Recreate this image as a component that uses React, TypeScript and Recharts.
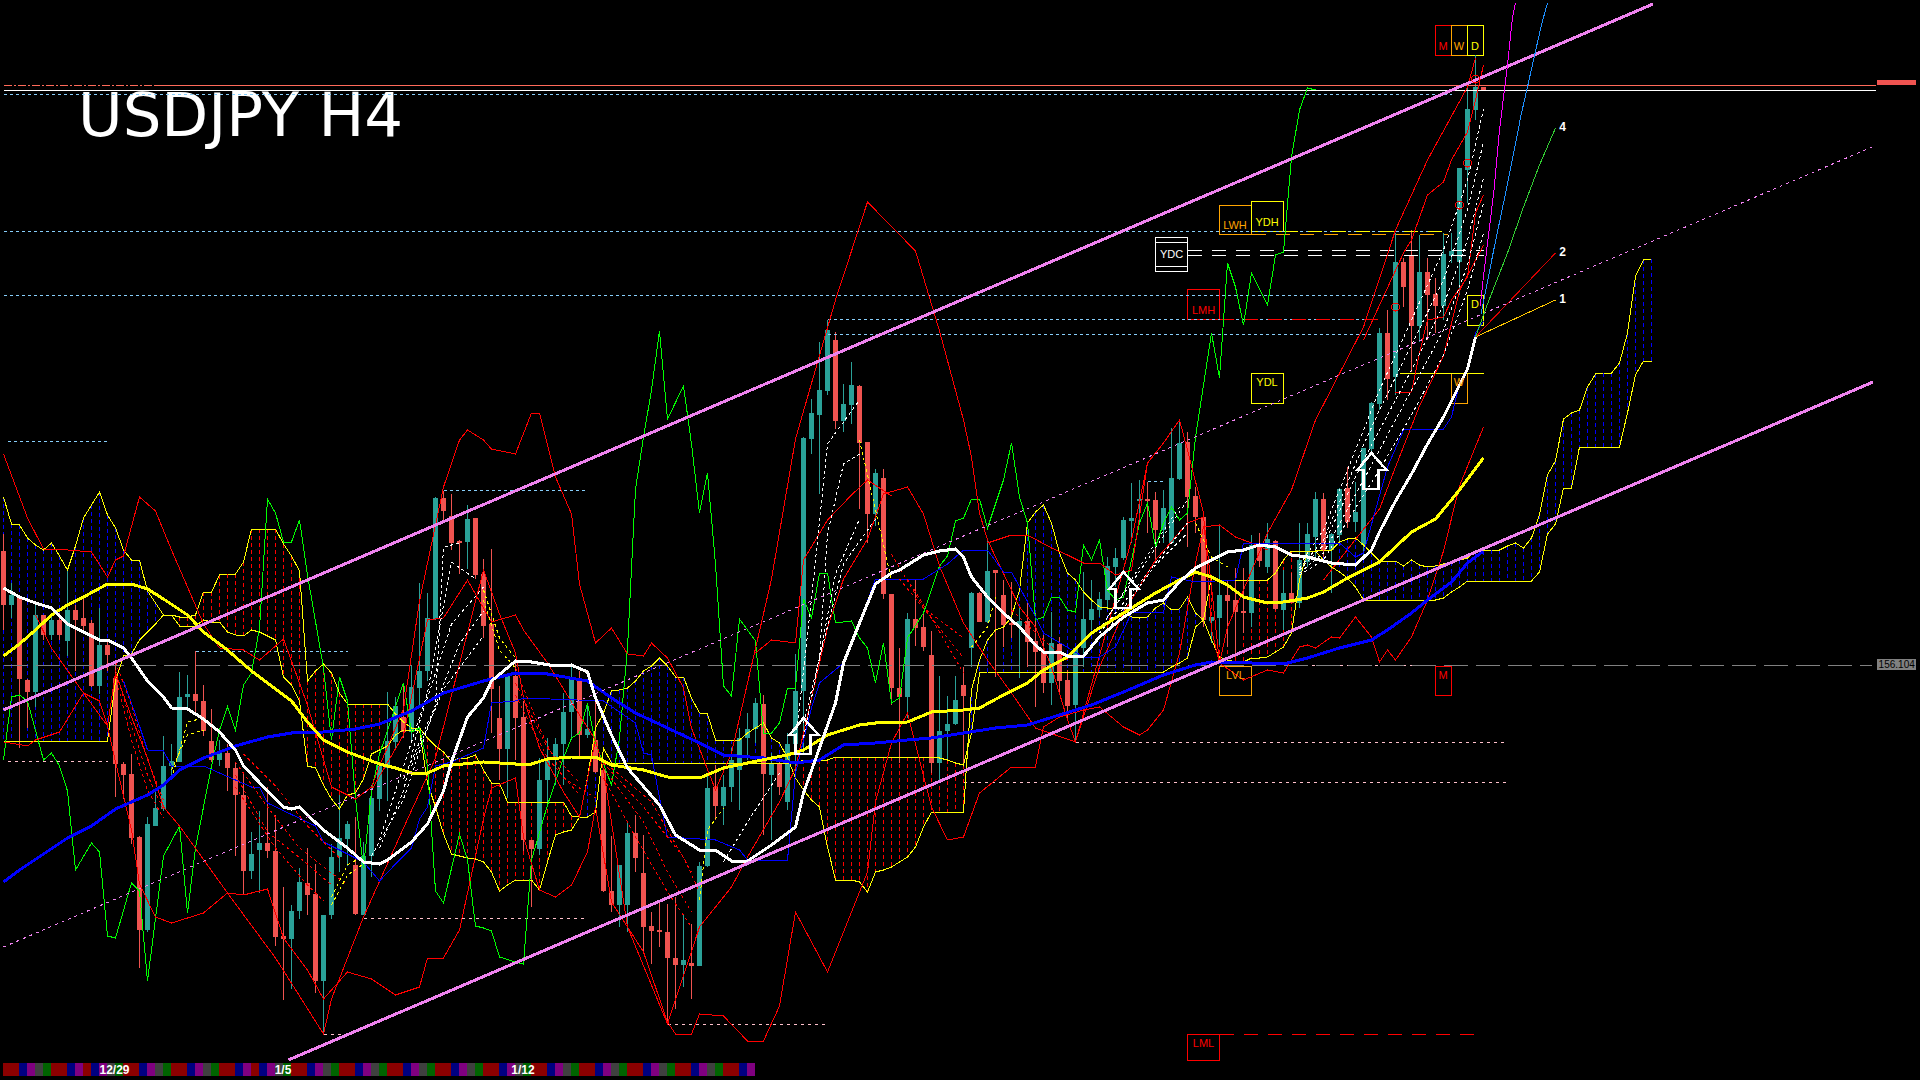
import { Bar, ComposedChart, Line, ReferenceArea, ReferenceDot, XAxis, YAxis } from 'recharts';

type Pt = [number, number];

const WIDTH = 1920;
const HEIGHT = 1080;

// candles, values are chart levels (points above the bottom of the window)
const candleHigh = [
  546, 497, 483, 401, 475, 465, 465, 467, 510, 475, 481, 460, 472, 440, 420, 318, 326, 244, 263, 291,
  344, 336, 408, 405, 429, 395, 371, 340, 336, 318, 307, 248, 269, 293, 265, 193, 175, 212, 232, 216,
  165, 236, 285, 259, 263, 238, 295, 318, 388, 383, 395, 415, 497, 487, 583, 589, 586, 540, 575, 562,
  521, 531, 394, 404, 419, 379, 240, 322, 342, 342, 387, 417, 409, 377, 384, 310, 244, 215, 258, 265,
  245, 168, 178, 176, 183, 166, 156, 218, 307, 315, 305, 332, 352, 367, 382, 385, 327, 320, 347, 426,
  643, 681, 738, 760, 748, 696, 718, 695, 638, 611, 611, 486, 432, 467, 501, 467, 449, 404, 384, 404,
  413, 488, 488, 542, 510, 500, 498, 473, 478, 467, 445, 468, 443, 410, 433, 508, 500, 488, 523, 532,
  563, 597, 600, 598, 588, 590, 652, 660, 648, 593, 568, 463, 555, 500, 512, 512, 545, 547, 557, 540,
  510, 507, 557, 557, 588, 587, 547, 592, 613, 598, 632, 678, 752, 770, 847, 822, 850, 845, 822, 802,
  847, 847, 912, 997, 1025, 993,
];
const candleLow = [
  450, 462, 332, 352, 373, 440, 440, 440, 424, 409, 448, 393, 386, 409, 283, 281, 236, 112, 148, 254,
  269, 301, 318, 371, 367, 344, 318, 314, 289, 224, 185, 201, 187, 222, 134, 80, 91, 161, 165, 87,
  46, 161, 208, 214, 165, 165, 203, 269, 279, 330, 342, 338, 375, 399, 460, 560, 530, 506, 511, 501,
  442, 347, 300, 282, 320, 229, 173, 225, 275, 295, 295, 340, 322, 342, 307, 188, 168, 153, 148, 208,
  128, 116, 133, 56, 71, 93, 81, 114, 213, 260, 255, 278, 270, 320, 337, 245, 240, 285, 270, 302,
  325, 626, 586, 685, 651, 648, 656, 571, 537, 554, 481, 375, 317, 362, 434, 429, 307, 300, 320, 355,
  313, 413, 458, 457, 403, 433, 442, 402, 413, 373, 387, 375, 385, 360, 338, 413, 450, 463, 470, 493,
  520, 537, 557, 547, 517, 537, 537, 600, 533, 547, 453, 437, 435, 433, 423, 447, 453, 513, 507, 470,
  450, 477, 472, 513, 523, 523, 487, 537, 552, 548, 525, 627, 670, 680, 685, 773, 708, 738, 740, 747,
  760, 817, 785, 877, 960, 989,
];
const candleOpen = [
  529, 475, 483, 400, 388, 465, 445, 460, 439, 470, 462, 457, 394, 435, 402, 316, 306, 243, 150, 254,
  271, 314, 318, 383, 386, 379, 339, 320, 327, 312, 285, 209, 230, 237, 229, 144, 141, 169, 197, 186,
  99, 165, 223, 241, 215, 165, 224, 281, 312, 338, 363, 348, 392, 409, 461, 582, 564, 539, 538, 562,
  506, 456, 362, 331, 404, 363, 240, 231, 300, 321, 336, 368, 401, 345, 340, 310, 189, 175, 175, 247,
  207, 154, 150, 148, 122, 115, 117, 114, 214, 293, 274, 293, 310, 342, 351, 376, 305, 316, 278, 336,
  389, 641, 665, 689, 740, 659, 675, 694, 638, 566, 602, 486, 392, 383, 461, 453, 425, 317, 349, 356,
  395, 432, 487, 458, 510, 485, 457, 454, 459, 439, 428, 397, 436, 400, 375, 432, 460, 470, 480, 513,
  522, 559, 580, 581, 580, 550, 537, 601, 638, 584, 563, 459, 462, 485, 480, 469, 467, 535, 513, 539,
  470, 487, 477, 518, 543, 581, 530, 545, 592, 558, 535, 631, 676, 747, 703, 818, 824, 754, 808, 786,
  774, 824, 818, 910, 970, 993,
];
const candleClose = [
  475, 485, 401, 388, 465, 445, 460, 445, 470, 460, 454, 394, 435, 425, 316, 305, 242, 150, 256, 272,
  314, 319, 383, 386, 379, 349, 320, 327, 312, 285, 209, 226, 237, 229, 143, 141, 169, 198, 185, 99,
  165, 223, 242, 256, 166, 224, 282, 314, 339, 374, 348, 393, 409, 462, 582, 569, 537, 538, 561, 505,
  454, 391, 331, 404, 362, 240, 231, 300, 321, 336, 368, 401, 345, 351, 308, 189, 175, 215, 247, 222,
  153, 149, 149, 122, 115, 120, 114, 214, 292, 274, 293, 320, 342, 351, 377, 306, 317, 293, 336, 389,
  642, 667, 690, 750, 659, 676, 695, 637, 566, 607, 486, 392, 383, 461, 452, 433, 317, 349, 356, 380,
  384, 487, 458, 509, 507, 455, 455, 459, 438, 428, 397, 437, 399, 374, 432, 461, 471, 481, 514, 522,
  560, 562, 581, 579, 550, 572, 602, 637, 583, 563, 460, 463, 485, 479, 468, 467, 535, 519, 541, 471,
  487, 477, 520, 546, 581, 530, 546, 591, 558, 568, 632, 677, 747, 701, 818, 793, 754, 808, 785, 774,
  826, 829, 912, 971, 993, 989,
];

// ichimoku spans, one value per bar. spanA under spanB paints the red hatch
const spanA = [
  583, 556, 555, 542, 535, 530, 537, 524, 510, 534, 562, 575, 588, 565, 552, 530, 520, 520, 489, 477,
  465, 465, 454, 454, 454, 460, 458, 458, 448, 445, 444, 450, 448, 444, 440, 403, 395, 379, 314, 312,
  295, 281, 271, 285, 287, 301, 326, 330, 334, 345, 350, 350, 350, 297, 273, 246, 226, 224, 222, 221,
  218, 208, 189, 195, 200, 200, 200, 190, 218, 245, 248, 250, 263, 302, 352, 367, 389, 390, 392, 399,
  409, 414, 422, 414, 403, 403, 382, 367, 366, 340, 340, 340, 340, 347, 352, 357, 342, 337, 322, 302,
  290, 280, 273, 233, 200, 200, 200, 198, 188, 208, 210, 213, 218, 223, 233, 253, 268, 268, 268, 268,
  268, 390, 420, 440, 450, 453, 463, 490, 557, 568, 575, 557, 527, 507, 500, 488, 480, 473, 472, 472,
  472, 463, 462, 463, 472, 477, 470, 471, 483, 467, 460, 440, 423, 420, 418, 418, 422, 422, 423, 428,
  433, 447, 500, 529, 529, 530, 530, 538, 541, 542, 535, 527, 519, 519, 519, 514, 520, 515, 513, 514,
  516, 518, 520, 522, 529, 529, 530, 530, 534, 537, 532, 542, 565, 605, 619, 661, 667, 670, 693, 706,
  707, 707, 717, 747, 804, 820, 821,
];
const spanB = [
  339, 339, 339, 339, 339, 339, 339, 339, 339, 339, 339, 339, 339, 339, 399, 424, 426, 440, 448, 456,
  465, 465, 463, 463, 465, 488, 488, 505, 506, 506, 518, 551, 551, 551, 551, 536, 524, 509, 399, 409,
  416, 407, 387, 376, 376, 376, 376, 376, 376, 366, 358, 352, 352, 342, 334, 328, 318, 322, 322, 325,
  310, 297, 297, 278, 278, 278, 278, 278, 278, 278, 278, 264, 263, 263, 268, 332, 317, 317, 317, 317,
  317, 317, 317, 317, 317, 317, 317, 317, 317, 317, 317, 317, 317, 317, 317, 317, 317, 317, 317, 317,
  320, 320, 320, 320, 323, 323, 323, 323, 323, 323, 323, 323, 323, 323, 323, 323, 323, 322, 320, 317,
  315, 347, 407, 408, 408, 408, 408, 408, 408, 408, 408, 408, 408, 408, 408, 408, 408, 408, 408, 408,
  408, 408, 408, 408, 408, 408, 413, 417, 422, 453, 460, 503, 500, 500, 500, 500, 500, 500, 500, 507,
  520, 529, 529, 529, 529, 520, 513, 508, 502, 493, 480, 480, 480, 480, 480, 480, 480, 480, 480, 480,
  482, 488, 493, 499, 499, 499, 499, 499, 499, 499, 499, 499, 508, 546, 556, 592, 592, 633, 633, 633,
  633, 633, 633, 667, 705, 719, 719,
];

// session colour strip along the bottom: r red, b blue, p purple, k grey, g green
const sessionCodes = [
  'r', 'r', 'b', 'p', 'k', 'g', 'r', 'r', 'b', 'p', 'r', 'b', 'p', 'k', 'g', 'r', 'r', 'b', 'p', 'k', 'g', 'r', 'r', 'b', 'p', 'k', 'g',
  'r', 'r', 'b', 'p', 'r', 'b', 'p', 'k', 'g', 'r', 'r', 'b', 'p', 'k', 'g', 'r', 'r', 'b', 'p', 'k', 'g', 'r', 'r', 'b', 'p', 'k', 'g',
  'r', 'r', 'b', 'p', 'k', 'g', 'r', 'r', 'b', 'p', 'k', 'g', 'r', 'r', 'b', 'p', 'k', 'g', 'r', 'r', 'b', 'p', 'k', 'g', 'r', 'r', 'b',
  'p', 'k', 'g', 'r', 'r', 'b', 'p', 'k', 'g', 'r', 'r', 'b', 'p',
];
const dateLabels: [string, number][] = [['12/29', 13.44], ['1/5', 34.5], ['1/12', 64.5]];

const whiteMa: Pt[] = [
  [0, 492], [2, 483], [4, 477], [6, 472], [8, 456], [10, 448], [12, 440], [13, 440], [15, 432], [16, 422], [18, 399], [20, 383], [21, 372], [23, 371],
  [25, 361], [27, 348], [29, 330], [30, 314], [33, 289], [35, 273], [36, 271], [37, 273], [38, 265], [40, 250], [43, 232], [45, 218], [47, 216], [48, 220],
  [51, 238], [53, 256], [55, 289], [56, 318], [58, 363], [60, 382], [61, 399], [64, 419], [66, 418], [69, 414], [71, 415], [73, 408], [74, 382], [76, 345],
  [78, 312], [82, 275], [84, 245], [87, 230], [89, 230], [91, 219], [93, 219], [96, 235], [99, 253], [100, 287], [102, 332], [104, 377], [105, 417], [107, 457],
  [109, 496], [111, 507], [112, 510], [115, 525], [117, 529], [119, 531], [120, 523], [121, 503], [123, 483], [125, 467], [127, 453], [129, 435], [130, 428],
  [132, 428], [133, 424], [135, 424], [137, 443], [140, 463], [143, 477], [145, 480], [147, 498], [149, 512], [151, 520], [153, 528], [155, 530], [157, 535],
  [159, 533], [161, 525], [163, 523], [166, 517], [169, 515], [171, 530], [172, 548], [174, 579], [176, 606], [178, 636], [180, 663], [182, 695], [183, 711], [184, 743],
];
const yellowMa: Pt[] = [
  [0, 424], [2, 436], [4, 450], [6, 465], [8, 475], [10, 483], [13, 496], [16, 496], [18, 491], [20, 481], [23, 465], [25, 448], [28, 430], [31, 409], [33, 397],
  [36, 379], [38, 358], [40, 340], [43, 328], [47, 316], [49, 312], [51, 307], [53, 307], [55, 314], [60, 318], [62, 317], [64, 316], [66, 316], [68, 321], [71, 323],
  [74, 323], [76, 315], [80, 310], [83, 303], [87, 302], [90, 312], [93, 317], [96, 322], [98, 325], [100, 330], [103, 345], [107, 355], [109, 357], [113, 358],
  [116, 368], [120, 370], [122, 372], [125, 385], [128, 397], [130, 410], [133, 423], [136, 447], [140, 467], [144, 487], [147, 500], [149, 508], [151, 503], [153, 495],
  [155, 483], [158, 477], [160, 478], [163, 482], [165, 488], [168, 502], [172, 518], [176, 548], [179, 561], [182, 590], [185, 622],
];
const blueMa: Pt[] = [
  [0, 198], [2, 210], [5, 226], [8, 242], [11, 254], [14, 271], [18, 285], [20, 295], [22, 310], [25, 322], [29, 334], [33, 343], [36, 347], [40, 348], [44, 351],
  [47, 356], [51, 369], [55, 387], [60, 399], [64, 407], [68, 406], [73, 399], [76, 382], [79, 367], [83, 352], [87, 337], [90, 325], [95, 322], [99, 317], [102, 320],
  [105, 335], [109, 337], [113, 340], [116, 342], [120, 347], [124, 352], [128, 355], [132, 365], [136, 375], [140, 388], [145, 405], [149, 415], [151, 418], [156, 417],
  [160, 416], [163, 422], [167, 432], [171, 440], [173, 450], [176, 467], [178, 480], [181, 498], [183, 517], [185, 529],
];
const blueStep: Pt[] = [
  [15, 399], [17, 354], [18, 330], [20, 329], [21, 314], [25, 314], [31, 293], [32, 293], [33, 277], [39, 254], [40, 238], [45, 218], [47, 199], [49, 216], [51, 232],
  [52, 261], [53, 273], [54, 314], [56, 318], [60, 332], [61, 377], [64, 379], [65, 382], [75, 379], [79, 357], [80, 327], [81, 325], [82, 282], [83, 243], [89, 240],
  [92, 230], [93, 220], [98, 220], [99, 307], [101, 372], [102, 397], [105, 417], [107, 457], [109, 501], [115, 501], [118, 516], [120, 530], [123, 530], [125, 508],
  [126, 508], [129, 463], [130, 447], [135, 423], [137, 423], [139, 433], [141, 467], [145, 468], [146, 503], [149, 498], [154, 500], [155, 537], [167, 537], [169, 523],
  [170, 527], [173, 613], [175, 650], [176, 651], [180, 651], [181, 663], [182, 697], [183, 713], [184, 747], [185, 759],
];
const chikouLine: Pt[] = [
  [0, 320], [1, 383], [2, 385], [3, 379], [5, 320], [6, 327], [7, 314], [8, 289], [9, 210], [11, 237], [12, 228], [13, 144], [14, 142], [16, 197], [17, 189], [18, 99],
  [20, 224], [22, 254], [23, 167], [24, 232], [26, 314], [27, 350], [28, 373], [29, 350], [30, 395], [31, 407], [32, 452], [33, 581], [34, 567], [35, 538], [36, 538],
  [37, 560], [38, 505], [40, 412], [41, 340], [42, 403], [43, 379], [44, 281], [45, 212], [46, 289], [47, 326], [50, 397], [51, 348], [52, 352], [53, 314], [54, 189],
  [55, 177], [57, 246], [58, 220], [59, 154], [60, 152], [61, 149], [62, 123], [64, 118], [65, 116], [66, 220], [68, 275], [70, 322], [71, 342], [72, 347], [73, 377],
  [74, 337], [76, 295], [77, 342], [78, 432], [79, 591], [80, 643], [81, 690], [82, 749], [83, 661], [85, 694], [86, 636], [87, 567], [88, 607], [89, 516], [90, 394],
  [91, 384], [92, 461], [94, 439], [95, 347], [96, 347], [97, 357], [98, 392], [99, 392], [100, 481], [101, 462], [102, 507], [103, 507], [104, 457], [106, 459], [107, 442],
  [108, 432], [109, 397], [110, 437], [111, 377], [112, 382], [113, 442], [115, 467], [117, 514], [118, 524], [119, 559], [120, 562], [121, 581], [122, 581], [123, 552],
  [125, 600], [126, 637], [127, 583], [128, 557], [129, 460], [130, 463], [131, 483], [132, 483], [133, 470], [134, 468], [135, 535], [136, 520], [137, 540], [138, 490],
  [139, 480], [140, 483], [141, 520], [142, 557], [143, 577], [144, 533], [145, 557], [146, 573], [147, 560], [148, 567], [149, 643], [151, 747], [152, 702], [153, 817],
  [154, 793], [155, 755], [156, 807], [158, 775], [159, 825], [160, 828], [161, 923], [162, 970], [163, 992], [164, 990],
];
const upperBand: Pt[] = [
  [0, 626], [3, 562], [5, 531], [8, 530], [11, 528], [13, 503], [14, 520], [15, 524], [17, 583], [19, 569], [21, 530], [25, 456], [27, 432], [30, 430], [32, 420], [35, 441],
  [38, 375], [41, 293], [44, 281], [46, 293], [47, 314], [50, 371], [52, 479], [55, 593], [57, 640], [58, 650], [60, 640], [61, 631], [64, 626], [66, 667], [67, 667],
  [69, 603], [71, 566], [72, 496], [74, 437], [76, 452], [78, 426], [80, 424], [81, 437], [83, 422], [85, 392], [86, 352], [89, 290], [91, 327], [93, 397], [96, 501],
  [99, 641], [104, 780], [108, 878], [114, 829], [117, 749], [120, 660], [121, 623], [122, 567], [123, 540], [127, 473], [129, 453], [131, 413], [133, 360], [134, 338],
  [138, 453], [141, 540], [143, 617], [145, 637], [147, 660], [148, 630], [150, 567], [151, 450], [152, 417], [153, 453], [155, 490], [158, 547], [161, 590], [164, 660],
  [170, 753], [174, 850], [178, 920], [183, 993], [184, 1022],
];
const lowerBand: Pt[] = [
  [4, 465], [6, 432], [10, 387], [13, 354], [14, 407], [16, 363], [18, 322], [20, 273], [22, 254], [28, 187], [34, 122], [40, 46], [41, 81], [45, 163], [50, 252], [54, 322],
  [60, 510], [62, 466], [64, 427], [65, 382], [67, 332], [70, 288], [72, 263], [74, 340], [75, 310], [78, 153], [83, 56], [87, 153], [91, 193], [93, 223], [97, 278], [99, 312],
  [101, 382], [103, 452], [105, 501], [108, 541], [110, 586], [113, 593], [115, 566], [117, 514], [120, 457], [123, 420], [126, 387], [129, 352], [134, 338], [137, 413],
  [140, 467], [144, 520], [148, 557], [150, 563], [151, 493], [152, 417], [155, 400], [158, 410], [160, 407], [162, 433], [163, 435], [164, 432], [166, 443], [167, 442],
  [169, 463], [171, 443], [172, 418], [173, 430], [174, 420], [176, 443], [178, 480], [180, 529], [182, 594], [185, 653],
];
const slowBand: Pt[] = [
  [0, 338], [3, 334], [4, 340], [7, 348], [10, 387], [12, 379], [13, 354], [14, 318], [16, 250], [17, 196], [19, 163], [21, 157], [25, 167], [28, 187], [30, 185], [33, 191],
  [35, 142], [38, 110], [40, 81], [43, 108], [46, 101], [49, 85], [52, 93], [53, 122], [55, 122], [57, 150], [60, 261], [61, 292], [64, 302], [65, 243], [67, 190], [69, 183],
  [71, 195], [73, 228], [74, 273], [76, 178], [78, 153], [80, 128], [83, 58], [84, 46], [86, 46], [87, 66], [90, 64], [93, 39], [95, 39], [97, 74], [99, 168], [103, 108],
  [105, 148], [108, 208], [109, 278], [111, 337], [113, 367], [116, 273], [118, 240], [120, 243], [122, 287], [126, 313], [129, 313], [130, 353], [132, 363], [135, 370],
  [137, 373], [140, 353], [142, 345], [143, 350], [145, 370], [147, 427], [149, 517], [150, 553], [152, 555], [154, 543], [156, 537], [158, 530],
];
const innerBandA: Pt[] = [[46, 290], [50, 345], [53, 460], [55, 462], [58, 500], [61, 458], [64, 465], [65, 450], [68, 417], [72, 365], [74, 340]];
const innerBandB: Pt[] = [[94, 427], [96, 440], [99, 437], [100, 520], [103, 560], [106, 585], [108, 600], [111, 584]];
const innerBandC: Pt[] = [[123, 537], [126, 545], [128, 545], [131, 532], [133, 525], [135, 517], [137, 517], [139, 505], [141, 510], [143, 617]];
const innerBandD: Pt[] = [[174, 687], [176, 688], [177, 727], [178, 760], [180, 763], [181, 780], [183, 803], [184, 867], [185, 885]];
const innerBandE: Pt[] = [[170, 740], [175, 827], [176, 840], [178, 885], [180, 898], [181, 920], [183, 948], [184, 980], [185, 1015]];
const innerBandF: Pt[] = [[165, 500], [172, 571], [174, 613], [177, 674], [180, 724], [182, 789], [185, 835]];

const whiteFans: Pt[][] = [
  [[46, 224], [50, 281], [54, 375], [55, 533], [57, 537]],
  [[47, 240], [53, 387], [56, 518], [59, 501]],
  [[47, 232], [50, 289], [52, 358], [56, 456], [60, 493]],
  [[50, 301], [54, 375], [57, 436], [60, 469]],
  [[51, 314], [55, 391], [60, 444]],
  [[90, 218], [93, 258], [97, 307]],
  [[99, 338], [101, 481], [103, 636], [107, 680]],
  [[100, 342], [102, 422], [103, 546], [105, 616], [107, 626]],
  [[100, 342], [102, 422], [104, 506], [107, 561]],
  [[100, 357], [102, 422], [105, 516], [109, 561]],
  [[137, 450], [142, 513], [147, 573]],
  [[138, 463], [143, 520], [148, 580]],
  [[137, 447], [142, 497], [147, 547], [148, 557]],
  [[138, 450], [144, 515], [148, 547]],
  [[162, 515], [165, 550], [170, 650], [172, 690], [176, 760], [180, 830], [183, 900], [185, 971]],
  [[162, 512], [165, 540], [170, 635], [172, 670], [176, 735], [180, 800], [183, 870], [185, 938]],
  [[162, 510], [165, 535], [170, 620], [172, 650], [176, 710], [180, 775], [183, 840], [185, 902]],
  [[162, 507], [165, 527], [170, 600], [172, 630], [176, 690], [180, 750], [183, 815], [185, 877]],
  [[162, 505], [165, 520], [170, 585], [172, 610], [176, 665], [180, 725], [183, 790], [185, 847]],
];
const redFans: Pt[][] = [
  [[14, 418], [16, 375], [18, 320], [20, 280]],
  [[14, 410], [16, 355], [18, 305], [20, 270]],
  [[14, 404], [16, 340], [18, 290], [20, 262]],
  [[29, 318], [33, 273], [37, 232], [41, 207], [43, 195]],
  [[29, 305], [33, 248], [38, 216], [41, 195]],
  [[29, 293], [34, 232], [38, 195], [40, 179]],
  [[30, 326], [34, 294], [38, 254], [42, 222]],
  [[64, 412], [67, 352], [70, 302], [74, 282]],
  [[64, 397], [68, 332], [72, 297]],
  [[64, 385], [68, 322], [72, 285]],
  [[75, 312], [80, 258], [83, 208], [86, 168]],
  [[75, 302], [79, 243], [83, 188], [86, 153]],
  [[75, 317], [80, 273], [85, 223], [87, 188]],
  [[76, 312], [81, 278], [86, 208]],
  [[111, 526], [115, 472], [120, 442]],
  [[112, 501], [116, 462], [120, 422]],
  [[113, 501], [116, 462], [120, 407]],
  [[126, 470], [130, 440], [133, 420]],
];
const yellowFans: Pt[][] = [
  [[21, 301], [23, 358], [25, 362]],
  [[21, 310], [23, 345], [25, 350]],
  [[41, 183], [43, 215], [45, 224]],
  [[41, 175], [43, 205], [45, 216]],
  [[60, 490], [62, 442], [64, 422]],
  [[60, 480], [62, 430], [64, 412]],
  [[87, 180], [88, 250], [90, 272]],
  [[107, 640], [109, 570], [111, 500]],
  [[121, 433], [123, 453], [124, 483]],
  [[149, 557], [151, 523], [153, 513]],
];

const channelTop: Pt[] = [[0, 370], [206.2, 1076]];
const channelBottom: Pt[] = [[35.6, 20], [233.7, 698]];
const channelMiddle: Pt[] = [[0, 133], [233.6, 933]];

const projectionOne: Pt[] = [[184, 743], [194, 780]];
const projectionTwo: Pt[] = [[184, 743], [194, 827]];
const projectionFour: Pt[] = [[184, 743], [185.4, 774], [188, 827], [190, 873], [192, 915], [194, 952]];
const projectionBlue: Pt[] = [[184.7, 766], [186.3, 831], [188, 896], [189.7, 965], [191, 1011], [192.3, 1057], [193, 1077]];
const projectionPink: Pt[] = [[184.6, 774], [185, 804], [186.3, 889], [187, 950], [188, 1015], [188.6, 1061], [189, 1077]];

const signalArrows: Pt[] = [[100, 362], [140, 508], [171, 627]];
const pivotRings: Pt[] = [[174, 773], [182, 875], [183, 917], [184, 1001]];

// from bar, to bar, level
const priceLevels: Record<string, [number, number, number][]> = {
  sky: [[0, 182, 990], [0, 181, 986], [0, 180, 849], [0, 174, 785], [103, 172, 761], [103, 171, 746], [0.5, 13, 639], [55, 73, 590], [24, 43, 429], [143, 145, 599]],
  blush: [[0.5, 13, 319], [45, 73, 162], [40, 43, 46], [83, 103, 56], [134, 145, 338], [146, 188, 338], [120, 188, 298], [160, 176, 415]],
  grey: [[0, 233.6, 415]],
  topRed: [[19, 234, 995]],
  topRedBroken: [[0, 19, 995]],
  topWhite: [[0, 234, 990]],
  redDash: [[152, 172, 761], [152, 185, 46]],
  orangeDash: [[156, 180.5, 846]],
  yellowDash: [[160, 180, 849]],
  whiteDash: [[148, 185, 830], [148, 185, 825]],
  yellowSolid: [[174.5, 185, 707]],
  whiteSolid: [[144, 148, 838], [144, 148, 814]],
};

const tagLabels = ['M', 'W', 'D', 'LWH', 'YDH', 'YDC', 'LMH', 'YDL', 'D', 'W', 'LVL', 'M', 'LML'];
const tagBars: Pt[] = [
  [178.94, 180.94], [180.94, 182.94], [182.94, 184.94], [151.94, 155.94], [155.94, 159.94], [143.94, 148.06], [147.94, 152.06],
  [155.94, 159.94], [182.94, 184.94], [180.94, 182.94], [151.94, 156.06], [178.94, 180.94], [148.06, 151.94],
];
const tagLevels: Pt[] = [
  [1025, 1055], [1025, 1055], [1025, 1055], [846, 875], [849, 879], [809, 843], [761, 791],
  [677, 707], [755, 785], [677, 707], [385, 414], [385, 414], [20, 46],
];
const tagColours = ['#ff0000', '#ffa500', '#ffff00', '#ffa500', '#ffff00', '#ffffff', '#ff0000', '#ffff00', '#ffff00', '#ffa500', '#ffa500', '#ff0000', '#ff0000'];
const tagSides = ['insideBottom', 'insideBottom', 'insideBottom', 'insideBottom', 'insideBottom', 'center', 'insideBottom', 'insideTop', 'insideTop', 'insideTop', 'insideTop', 'insideTop', 'insideTop'];

const projectionLabels: [string, number, number][] = [['1', 194.9, 781], ['2', 194.9, 828], ['4', 194.9, 953]];

const sessionFill: Record<string, string> = { r: '#8b0000', b: '#000080', p: '#800080', k: '#404040', g: '#006400' };

const rows = spanA.map((a, i) => {
  const b = spanB[i];
  return {
    i,
    wick: i < candleHigh.length ? [candleLow[i], candleHigh[i]] : null,
    open: candleOpen[i],
    close: candleClose[i],
    hatchBlue: a > b ? [b, a] : null,
    hatchRed: a < b ? [a, b] : null,
    strip: i < sessionCodes.length ? [4, 17] : null,
    session: sessionCodes[i],
    a,
    b,
  };
});

const toRows = (pts: Pt[]) => pts.map(([i, v]) => ({ i, v }));

const CandleShape = (props: any) => {
  const { x, y, width, height, payload } = props;
  if (!payload?.wick || !Number.isFinite(y)) return null;
  const [lo, hi] = payload.wick;
  const k = hi > lo ? height / (hi - lo) : 0;
  const up = payload.close >= payload.open;
  const colour = up ? '#2aa198' : '#ef5350';
  const cx = Math.floor(x + width / 2) + 0.5;
  const top = y + (hi - Math.max(payload.open, payload.close)) * k;
  const h = Math.max(Math.abs(payload.open - payload.close) * k, 2);
  return (
    <g>
      <line x1={cx} x2={cx} y1={y} y2={y + height} stroke={colour} />
      <rect x={cx - 2.5} y={top} width={5} height={h} fill={colour} />
    </g>
  );
};

const hatchShape = (colour: string, key: 'hatchBlue' | 'hatchRed') => (props: any) => {
  const { x, y, width, height, payload } = props;
  if (!payload?.[key] || !Number.isFinite(y)) return null;
  const cx = Math.floor(x + width / 2) + 0.5;
  return <line x1={cx} x2={cx} y1={y} y2={y + height} stroke={colour} strokeDasharray="4 3" />;
};

const StripShape = (props: any) => {
  const { x, y, width, height, payload } = props;
  if (!payload?.strip || !Number.isFinite(y)) return null;
  return <rect x={x + width / 2 - 4} y={y} width={8} height={height} fill={sessionFill[payload.session]} />;
};

const ArrowDot = (props: any) => {
  const { cx, cy } = props;
  return (
    <polygon
      points={`${cx},${cy} ${cx + 15},${cy + 17} ${cx + 7},${cy + 17} ${cx + 7},${cy + 36} ${cx - 8},${cy + 36} ${cx - 8},${cy + 17} ${cx - 14},${cy + 17}`}
      fill="none"
      stroke="#ffffff"
      strokeWidth={2.5}
    />
  );
};

const RingDot = (props: any) => <circle cx={props.cx} cy={props.cy} r={4} fill="none" stroke="#ff0000" />;

const trace = (key: string, pts: Pt[], stroke: string, strokeWidth = 1, strokeDasharray?: string) => (
  <Line
    key={key}
    xAxisId="main"
    data={toRows(pts)}
    dataKey="v"
    stroke={stroke}
    strokeWidth={strokeWidth}
    strokeDasharray={strokeDasharray}
    dot={false}
    activeDot={false}
    legendType="none"
    isAnimationActive={false}
  />
);

const levelStyle: Record<string, [string, number, string | undefined]> = {
  sky: ['#87cefa', 1, '3 3'],
  blush: ['#ffc0cb', 1, '3 4'],
  grey: ['#808080', 1, '24 8'],
  topRed: ['#ff6a5a', 1, undefined],
  topRedBroken: ['#ff6a5a', 1, '8 2 2 2'],
  topWhite: ['#ffffff', 1, undefined],
  redDash: ['#ff0000', 1, '14 10'],
  orangeDash: ['#ffa500', 1, '14 10'],
  yellowDash: ['#ffff00', 1, '14 10'],
  whiteDash: ['#ffffff', 1, '14 10'],
  yellowSolid: ['#ffff00', 1, undefined],
  whiteSolid: ['#ffffff', 1, undefined],
};

const axes = [
  ['main', -0.4375, 239.5625],
  ['hatchBlueAxis', -0.4375, 239.5625],
  ['hatchRedAxis', -0.4375, 239.5625],
  ['candleAxis', -0.4375, 239.5625],
  ['stripAxis', -0.875, 239.125],
] as const;

const App = () => {
  return (
    <div style={{ position: 'absolute', left: 0, top: 0, width: WIDTH, height: HEIGHT, background: '#000000', overflow: 'hidden', shapeRendering: 'crispEdges' }}>
      <ComposedChart width={WIDTH} height={HEIGHT} data={rows} margin={{ top: 0, right: 0, bottom: 0, left: 0 }} style={{ background: '#000000' }}>
        {axes.map(([id, lo, hi]) => (
          <XAxis key={id} xAxisId={id} dataKey="i" type="number" domain={[lo, hi]} allowDataOverflow hide />
        ))}
        <YAxis type="number" domain={[0, HEIGHT]} allowDataOverflow hide />

        <Bar xAxisId="hatchBlueAxis" dataKey="hatchBlue" barSize={2} shape={hatchShape('#0000ff', 'hatchBlue')} isAnimationActive={false} />
        <Bar xAxisId="hatchRedAxis" dataKey="hatchRed" barSize={2} shape={hatchShape('#ff0000', 'hatchRed')} isAnimationActive={false} />
        <Bar xAxisId="stripAxis" dataKey="strip" barSize={8} shape={StripShape} isAnimationActive={false} />

        {Object.entries(priceLevels).flatMap(([name, list]) =>
          list.map(([from, to, level], n) =>
            trace(`${name}${n}`, [[from, level], [to, level]], levelStyle[name][0], levelStyle[name][1], levelStyle[name][2]),
          ),
        )}

        <Line xAxisId="main" dataKey="a" stroke="#ffff00" dot={false} activeDot={false} isAnimationActive={false} />
        <Line xAxisId="main" dataKey="b" stroke="#ffff00" dot={false} activeDot={false} isAnimationActive={false} />

        {trace('chikou', chikouLine, '#00ff00')}
        {trace('upper', upperBand, '#ff0000')}
        {trace('lower', lowerBand, '#ff0000')}
        {trace('slow', slowBand, '#ff0000')}
        {trace('innerA', innerBandA, '#ff0000')}
        {trace('innerB', innerBandB, '#ff0000')}
        {trace('innerC', innerBandC, '#ff0000')}
        {trace('innerD', innerBandD, '#ff0000')}
        {trace('innerE', innerBandE, '#ff0000')}
        {trace('innerF', innerBandF, '#ff0000')}
        {trace('blueStep', blueStep, '#0000ff')}
        {redFans.map((f, n) => trace(`redFan${n}`, f, '#ff0000', 1, '3 3'))}
        {yellowFans.map((f, n) => trace(`yellowFan${n}`, f, '#ffff00', 1, '3 3'))}
        {whiteFans.map((f, n) => trace(`whiteFan${n}`, f, '#ffffff', 1, '3 3'))}

        {trace('blueMa', blueMa, '#0000ff', 3)}
        {trace('yellowMa', yellowMa, '#ffff00', 3)}
        {trace('whiteMa', whiteMa, '#ffffff', 3)}

        {trace('channelMiddle', channelMiddle, '#ee82ee', 1, '3 4')}
        {trace('channelTop', channelTop, '#ee82ee', 3)}
        {trace('channelBottom', channelBottom, '#ee82ee', 3)}

        {trace('projOne', projectionOne, '#ffc800')}
        {trace('projTwo', projectionTwo, '#d80000')}
        {trace('projFour', projectionFour, '#32cd32')}
        {trace('projBlue', projectionBlue, '#1e90ff')}
        {trace('projPink', projectionPink, '#ff00ff')}

        <Line xAxisId="main" data={toRows(signalArrows)} dataKey="v" stroke="none" dot={ArrowDot} activeDot={false} isAnimationActive={false} />
        <Line xAxisId="main" data={toRows(pivotRings)} dataKey="v" stroke="none" dot={RingDot} activeDot={false} isAnimationActive={false} />

        <Bar xAxisId="candleAxis" dataKey="wick" barSize={5} shape={CandleShape} isAnimationActive={false} />

        {tagLabels.map((label, n) => (
          <ReferenceArea
            key={`${label}${n}`}
            xAxisId="main"
            x1={tagBars[n][0]}
            x2={tagBars[n][1]}
            y1={tagLevels[n][0]}
            y2={tagLevels[n][1]}
            fill="none"
            stroke={tagColours[n]}
            strokeWidth={1}
            ifOverflow="visible"
            label={{ value: label, position: tagSides[n] as any, fill: tagColours[n], fontSize: 11, fontFamily: 'Liberation Sans' }}
          />
        ))}

        {dateLabels.map(([label, bar]) => (
          <ReferenceDot
            key={label}
            xAxisId="stripAxis"
            x={bar}
            y={10.5}
            r={0}
            ifOverflow="visible"
            label={{ value: label, position: 'center', fill: '#ffffff', fontSize: 12, fontWeight: 'bold', fontFamily: 'Liberation Sans' }}
          />
        ))}
        {projectionLabels.map(([label, bar, level]) => (
          <ReferenceDot
            key={label}
            xAxisId="main"
            x={bar}
            y={level}
            r={0}
            ifOverflow="visible"
            label={{ value: label, position: 'center', fill: '#ffffff', fontSize: 12, fontWeight: 'bold', fontFamily: 'Liberation Sans' }}
          />
        ))}

        <ReferenceArea xAxisId="main" x1={234.2} x2={239.1} y1={995} y2={1000} fill="#ef5350" fillOpacity={1} stroke="none" ifOverflow="visible" />
        <ReferenceArea
          xAxisId="main"
          x1={234.2}
          x2={239.1}
          y1={410}
          y2={421}
          fill="#808080"
          fillOpacity={1}
          stroke="none"
          ifOverflow="visible"
          label={{ value: '156.104', position: 'center', fill: '#000000', fontSize: 10, fontFamily: 'Liberation Sans' }}
        />

        <text x={78} y={136} fill="#ffffff" fontSize={61} fontFamily="DejaVu Sans">
          USDJPY H4
        </text>
      </ComposedChart>
    </div>
  );
};

export default App;
